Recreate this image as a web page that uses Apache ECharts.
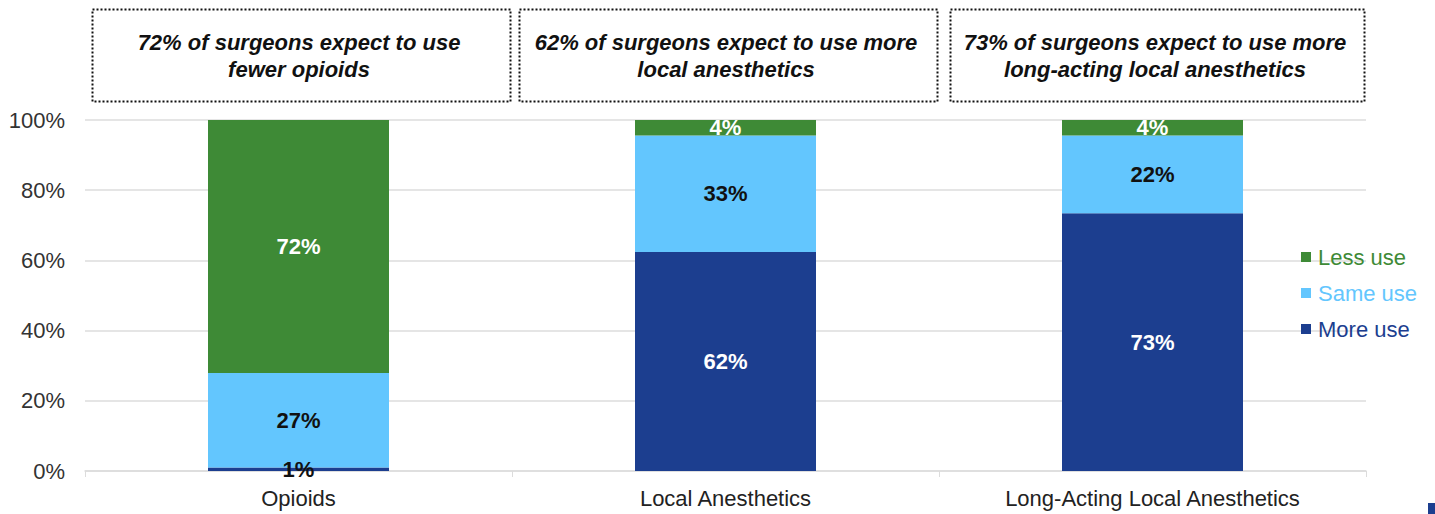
<!DOCTYPE html>
<html>
<head>
<meta charset="utf-8">
<script src="https://cdn.jsdelivr.net/npm/echarts@6/dist/echarts.min.js"></script>
<style>
html,body{margin:0;padding:0;background:#fff;}
#chart{width:1435px;height:514px;}
</style>
</head>
<body>
<div id="chart"></div>
<script>
const categories = ['Opioids', 'Local Anesthetics', 'Long-Acting Local Anesthetics'];
const moreUse = [1, 62.4, 73.4];
const sameUse = [26.9, 33.2, 22.2];
const lessUse = [72.1, 4.4, 4.4];
const yTicks = ['0%', '20%', '40%', '60%', '80%', '100%'];
const headlines = [
  '72% of surgeons expect to use\nfewer opioids',
  '62% of surgeons expect to use more\nlocal anesthetics',
  '73% of surgeons expect to use more\nlong-acting local anesthetics'
];
const colors = { less: '#3E8A36', same: '#63C6FE', more: '#1C3E8F' };

const FONT = '"Liberation Sans", Arial, sans-serif';
const GRID_LEFT = 85, GRID_RIGHT_EDGE = 1366, GRID_TOP = 120, GRID_BOTTOM_Y = 471;
const bandW = (GRID_RIGHT_EDGE - GRID_LEFT) / categories.length;

const chart = echarts.init(document.getElementById('chart'), null, { renderer: 'svg' });

function lbl(color) {
  return {
    show: true, position: 'inside', color: color, fontSize: 22, fontWeight: 'bold',
    fontFamily: FONT, formatter: p => Math.round(p.value) + '%'
  };
}

const graphics = [];
headlines.forEach((t, i) => {
  const x0 = GRID_LEFT + i * bandW + 5 + (i === 2 ? 4 : 0);
  const w = bandW - 9 - (i === 2 ? 4 : 0);
  graphics.push({
    type: 'rect', left: x0, top: 7, silent: true,
    shape: { width: w, height: 92 },
    style: { fill: 'none', stroke: '#111', lineWidth: 2, lineDash: [2, 2] }
  });
  graphics.push({
    type: 'text', x: x0 + w / 2, y: 56, silent: true,
    style: {
      text: t, fill: '#111', font: 'italic bold 22px ' + FONT,
      align: 'center', verticalAlign: 'middle', lineHeight: 27
    }
  });
});
graphics.push({ type: 'rect', left: 1428, top: 503, silent: true, shape: { width: 7, height: 11 }, style: { fill: '#1C3E8F' } });

chart.setOption({
  animation: false,
  backgroundColor: '#fff',
  grid: { left: GRID_LEFT, right: 1435 - GRID_RIGHT_EDGE, top: GRID_TOP, bottom: 514 - GRID_BOTTOM_Y, containLabel: false },
  legend: {
    orient: 'vertical', left: 1296, top: 241, itemWidth: 10, itemHeight: 10, itemGap: 14,
    icon: 'rect', selectedMode: false,
    textStyle: { fontSize: 22, fontFamily: FONT, padding: [0, 0, 0, 2] },
    data: [
      { name: 'Less use', textStyle: { color: colors.less } },
      { name: 'Same use', textStyle: { color: colors.same } },
      { name: 'More use', textStyle: { color: colors.more } }
    ]
  },
  xAxis: {
    type: 'category', data: categories,
    axisLine: { lineStyle: { color: '#dcdcdc', width: 1.5 } },
    axisTick: { show: true, alignWithLabel: false, length: 6, lineStyle: { color: '#dcdcdc' } },
    axisLabel: { color: '#222', fontSize: 22, fontFamily: FONT, margin: 16 }
  },
  yAxis: {
    type: 'value', min: 0, max: 100, interval: 20,
    axisLine: { show: false }, axisTick: { show: false },
    splitLine: { lineStyle: { color: '#dcdcdc', width: 1.5 } },
    axisLabel: { color: '#333', fontSize: 22, fontFamily: FONT, margin: 20,
      formatter: v => yTicks[Math.round(v / 20)] }
  },
  series: [
    { name: 'More use', type: 'bar', stack: 'a', barWidth: 181,
      data: moreUse.map(v => ({ value: v, label: { color: v < 5 ? '#111' : '#fff' } })),
      itemStyle: { color: colors.more }, label: lbl('#fff') },
    { name: 'Same use', type: 'bar', stack: 'a', data: sameUse, barWidth: 181,
      itemStyle: { color: colors.same }, label: lbl('#111') },
    { name: 'Less use', type: 'bar', stack: 'a', data: lessUse, barWidth: 181,
      itemStyle: { color: colors.less }, label: lbl('#fff') }
  ],
  graphic: graphics
});
</script>
</body>
</html>
